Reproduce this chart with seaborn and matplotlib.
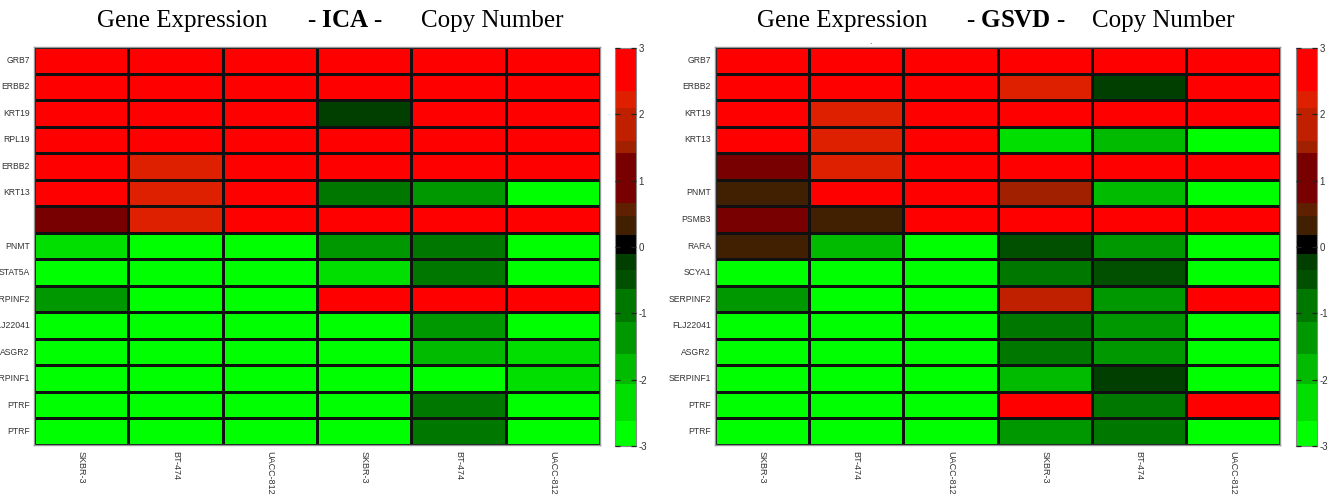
import numpy as np
import pandas as pd
import seaborn as sns
import matplotlib
matplotlib.use("Agg")
import matplotlib.pyplot as plt
from matplotlib.colors import ListedColormap, BoundaryNorm

# ---------------- data ----------------
cell_lines = ["SKBR-3", "BT-474", "UACC-812", "SKBR-3", "BT-474", "UACC-812"]

genes_ica = ["GRB7", "ERBB2", "KRT19", "RPL19", "ERBB2", "KRT13", "",
             "PNMT", "STAT5A", "SERPINF2", "FLJ22041", "ASGR2", "SERPINF1",
             "PTRF", "PTRF"]
ica_values = [
    [2.9, 2.9, 2.9, 2.9, 2.9, 2.9],
    [2.9, 2.9, 2.9, 2.9, 2.9, 2.9],
    [2.9, 2.9, 2.9, -0.2, 2.9, 2.9],
    [2.9, 2.9, 2.9, 2.9, 2.9, 2.9],
    [2.9, 2.2, 2.9, 2.9, 2.9, 2.9],
    [2.9, 2.2, 2.9, -0.9, -1.4, -2.9],
    [1.0, 2.2, 2.9, 2.9, 2.9, 2.9],
    [-2.35, -2.9, -2.9, -1.4, -0.9, -2.9],
    [-2.9, -2.9, -2.9, -2.35, -0.9, -2.9],
    [-1.3, -2.9, -2.9, 2.9, 2.9, 2.9],
    [-2.9, -2.9, -2.9, -2.9, -1.3, -2.9],
    [-2.9, -2.9, -2.9, -2.9, -1.85, -2.35],
    [-2.9, -2.9, -2.9, -2.9, -2.9, -2.35],
    [-2.9, -2.9, -2.9, -2.9, -0.9, -2.9],
    [-2.9, -2.9, -2.9, -2.9, -0.9, -2.9],
]

genes_gsvd = ["GRB7", "ERBB2", "KRT19", "KRT13", "", "PNMT", "PSMB3", "RARA",
              "SCYA1", "SERPINF2", "FLJ22041", "ASGR2", "SERPINF1", "PTRF", "PTRF"]
gsvd_values = [
    [2.9, 2.9, 2.9, 2.9, 2.9, 2.9],
    [2.9, 2.9, 2.9, 2.2, -0.2, 2.9],
    [2.9, 2.2, 2.9, 2.9, 2.9, 2.9],
    [2.9, 2.2, 2.9, -2.35, -1.85, -2.9],
    [1.0, 2.2, 2.9, 2.9, 2.9, 2.9],
    [0.3, 2.9, 2.9, 1.5, -1.85, -2.9],
    [1.0, 0.3, 2.9, 2.9, 2.9, 2.9],
    [0.3, -1.85, -2.9, -0.5, -1.4, -2.9],
    [-2.9, -2.9, -2.9, -0.9, -0.5, -2.9],
    [-1.4, -2.9, -2.9, 1.85, -1.4, 2.9],
    [-2.9, -2.9, -2.9, -0.9, -1.4, -2.9],
    [-2.9, -2.9, -2.9, -0.9, -1.4, -2.9],
    [-2.9, -2.9, -2.9, -1.85, -0.2, -2.9],
    [-2.9, -2.9, -2.9, 2.9, -0.9, 2.9],
    [-2.9, -2.9, -2.9, -1.4, -0.9, -2.9],
]

cbar_ticks = [-3, -2, -1, 0, 1, 2, 3]

# ---------------- colour map ----------------
level_colors = ["#00FF00", "#00DF00", "#00BB00", "#009800", "#007800", "#005000",
                "#003F00", "#000000", "#402000", "#5F2000", "#780000", "#A02000",
                "#C02000", "#DF2000", "#FF0000"]
level_bounds = [-3, -2.63, -2.07, -1.61, -1.13, -0.63, -0.34, -0.10, 0.18, 0.47,
                0.66, 1.42, 1.60, 2.10, 2.35, 3]
cmap = ListedColormap(level_colors)
norm = BoundaryNorm(level_bounds, cmap.N)

sns.set_style("white")
plt.rcParams["font.family"] = ["Liberation Sans", "DejaVu Sans"]
plt.rcParams["axes.unicode_minus"] = False
plt.rcParams["mathtext.fontset"] = "custom"
plt.rcParams["mathtext.bf"] = "Liberation Serif:bold"
plt.rcParams["mathtext.rm"] = "Liberation Serif"

W, H = 1339, 496
fig = plt.figure(figsize=(W / 100, H / 100), dpi=100)


def px_axes(x0, y0, x1, y1):
    return fig.add_axes([x0 / W, 1 - y1 / H, (x1 - x0) / W, (y1 - y0) / H])


panels = [
    (ica_values, genes_ica, (34, 47, 600, 445), (615, 48, 636, 446)),
    (gsvd_values, genes_gsvd, (715, 47, 1280, 445), (1296, 48, 1317, 446)),
]

for values, genes, hbox, cbox in panels:
    ax = px_axes(*hbox)
    cax = px_axes(*cbox)
    df = pd.DataFrame(values, index=range(len(genes)), columns=range(len(cell_lines)))
    sns.heatmap(df, ax=ax, cbar_ax=cax, cmap=cmap, norm=norm,
                linewidths=1.0, linecolor="#101010",
                xticklabels=cell_lines, yticklabels=genes,
                cbar_kws={"ticks": cbar_ticks, "spacing": "proportional"})
    ax.set_xticklabels(cell_lines, rotation=-90, fontsize=6.5, color="#333333")
    ax.set_yticklabels(genes, rotation=0, fontsize=6.2, color="#333333")
    ax.tick_params(axis="y", length=0, pad=3)
    ax.tick_params(axis="x", length=0, pad=4)
    for s in ax.spines.values():
        s.set_visible(True)
        s.set_color("#999999")
        s.set_linewidth(1.0)
    cb = ax.collections[0].colorbar
    cb.outline.set_edgecolor("#888888")
    cb.outline.set_linewidth(0.8)
    cax.set_axisbelow(False)
    cax.minorticks_off()
    cax.yaxis.set_ticks_position("both")
    cax.tick_params(axis="y", which="major", direction="in", length=3.5, width=0.9,
                    left=True, right=True, labelleft=False, labelright=True,
                    labelsize=7, labelcolor="#333333", pad=2, color="#222222")
    cax.set_yticks(cbar_ticks)
    cax.set_yticklabels([str(t) for t in cbar_ticks])
    cax.minorticks_off()

title_kw = dict(fontsize=18, family="Liberation Serif", va="center", color="black")
ty = 1 - 21 / H
fig.text(97 / W, ty, "Gene Expression", ha="left", **title_kw)
fig.text(345 / W, ty, r"- $\mathbf{ICA}$ -", ha="center", **title_kw)
fig.text(421 / W, ty, "Copy Number", ha="left", **title_kw)
fig.text(757 / W, ty, "Gene Expression", ha="left", **title_kw)
fig.text(1016 / W, ty, r"- $\mathbf{GSVD}$ -", ha="center", **title_kw)
fig.text(1092 / W, ty, "Copy Number", ha="left", **title_kw)
fig.text(870 / W, 1 - 43 / H, ".", ha="center", va="center", fontsize=6)

fig.savefig("out.png", dpi=100)
